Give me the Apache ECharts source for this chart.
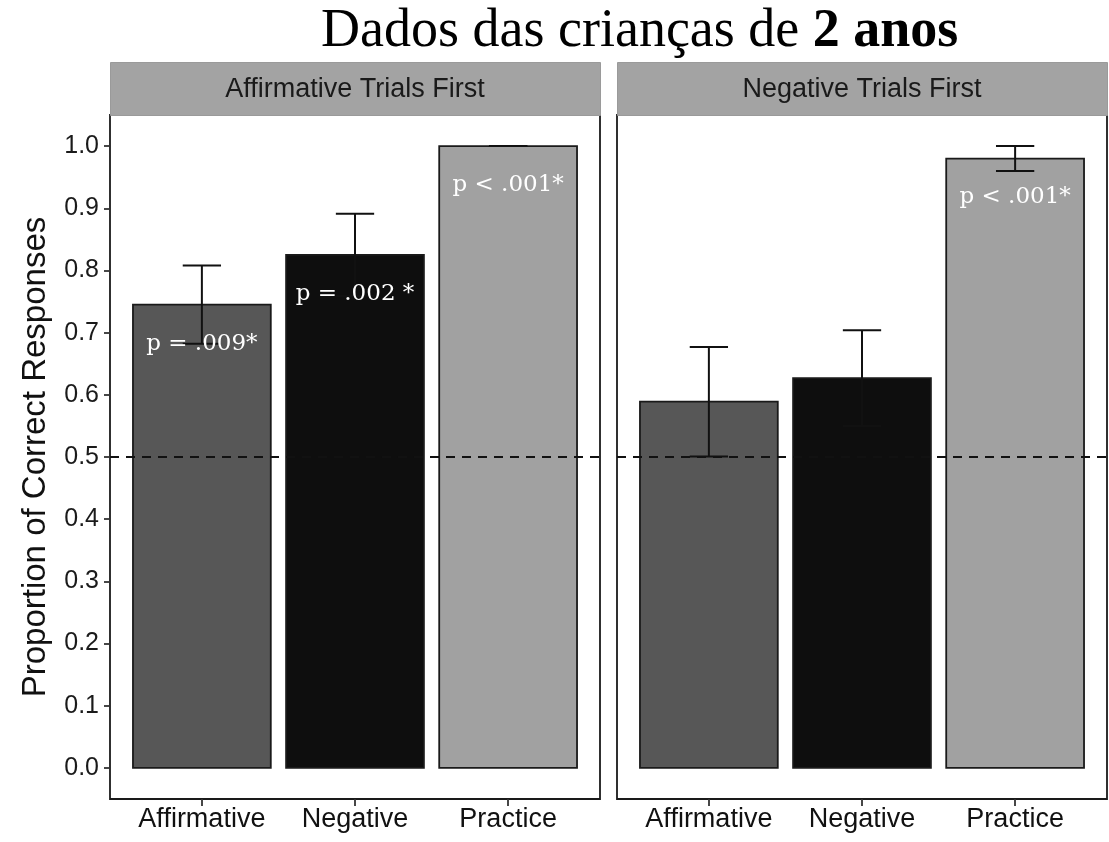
<!DOCTYPE html>
<html>
<head>
<meta charset="utf-8">
<script src="https://cdn.jsdelivr.net/npm/echarts@6/dist/echarts.min.js"></script>
<style>
  html, body { margin: 0; padding: 0; background: #fff; }
  #chart { width: 1109px; height: 842px; }
</style>
</head>
<body>
<div id="chart"></div>
<script>
// Conditions on the x axis of each facet
const categories = ['Affirmative', 'Negative', 'Practice'];
// Facet titles (trial order)
const panels = ['Affirmative Trials First', 'Negative Trials First'];

// Mean proportion correct and standard error, affirmative-first order
const affFirstMeans = [0.745, 0.825, 1.000];
const affFirstErr = [0.063, 0.066, 0.000];
const affFirstP = ['p = .009*', 'p = .002 *', 'p < .001*'];

// Mean proportion correct and standard error, negative-first order
const negFirstMeans = [0.589, 0.627, 0.980];
const negFirstErr = [0.088, 0.077, 0.020];
const negFirstP = ['', '', 'p < .001*'];

// Y tick values and chance level
const yTicks = [0, 0.1, 0.2, 0.3, 0.4, 0.5, 0.6, 0.7, 0.8, 0.9, 1.0];
const chance = 0.5;

// Styling
const barColors = ['#575757', '#0e0e0e', '#a1a1a1'];
const sans = 'Liberation Sans, Arial, sans-serif';
const serif = 'Liberation Serif, Times New Roman, serif';
const layout = { lefts: [110, 617], width: 490, top: 115, height: 684, stripTop: 62 };
const xRange = [0.4, 3.6];

const facetData = [
  { means: affFirstMeans, err: affFirstErr, p: affFirstP },
  { means: negFirstMeans, err: negFirstErr, p: negFirstP }
];

function rows(f) {
  return categories.map((c, i) => [i + 1, f.means[i], f.err[i], i, f.p[i]]);
}

function renderBar(params, api) {
  const x = api.value(0), y = api.value(1), ci = api.value(3);
  const top = api.coord([x, y]);
  const base = api.coord([x, 0]);
  const w = api.size([0.9, 0])[0];
  return {
    type: 'rect',
    shape: { x: top[0] - w / 2, y: top[1], width: w, height: base[1] - top[1] },
    style: { fill: barColors[ci], stroke: '#1a1a1a', lineWidth: 1.8 }
  };
}

function renderErr(params, api) {
  const x = api.value(0), y = api.value(1), e = api.value(2);
  const hi = api.coord([x, y + e]);
  const lo = api.coord([x, y - e]);
  const cw = api.size([0.25, 0])[0];
  const st = { stroke: '#111', lineWidth: 2 };
  return {
    type: 'group',
    children: [
      { type: 'line', shape: { x1: hi[0], y1: hi[1], x2: lo[0], y2: lo[1] }, style: st },
      { type: 'line', shape: { x1: hi[0] - cw / 2, y1: hi[1], x2: hi[0] + cw / 2, y2: hi[1] }, style: st },
      { type: 'line', shape: { x1: lo[0] - cw / 2, y1: lo[1], x2: lo[0] + cw / 2, y2: lo[1] }, style: st }
    ]
  };
}

const rowsCache = {};

function renderP(params, api) {
  const x = api.value(0), y = api.value(1);
  const txt = rowsCache[params.seriesIndex][params.dataIndex][4];
  if (!txt) return null;
  const top = api.coord([x, y]);
  return {
    type: 'text',
    style: {
      text: txt, x: top[0], y: top[1] + 39,
      align: 'center', verticalAlign: 'middle',
      fill: '#ffffff', font: '23px DejaVu Serif, serif'
    }
  };
}

const grids = [], xAxes = [], yAxes = [], series = [], graphics = [];

facetData.forEach((f, k) => {
  const data = rows(f);
  grids.push({
    left: layout.lefts[k], top: layout.top, width: layout.width, height: layout.height,
    show: true, borderColor: '#1a1a1a', borderWidth: 1.8, backgroundColor: '#fff'
  });
  xAxes.push({
    gridIndex: k, type: 'value', min: xRange[0], max: xRange[1], position: 'bottom',
    axisLine: { show: false, onZero: false }, splitLine: { show: false },
    axisTick: { show: true, inside: false, customValues: [1, 2, 3], length: 7, lineStyle: { color: '#333', width: 1.8 } },
    axisLabel: {
      show: true, customValues: [1, 2, 3], margin: 7,
      formatter: v => categories[Math.round(v) - 1],
      fontFamily: sans, fontSize: 27, color: '#111'
    }
  });
  yAxes.push({
    gridIndex: k, type: 'value', min: -0.05, max: 1.05, position: 'left',
    axisLine: { show: false, onZero: false }, splitLine: { show: false },
    axisTick: { show: k === 0, customValues: yTicks, length: 6, lineStyle: { color: '#333', width: 1.8 } },
    axisLabel: {
      show: k === 0, customValues: yTicks, margin: 11,
      formatter: v => v.toFixed(1), fontFamily: sans, fontSize: 25, color: '#1a1a1a'
    },
    name: k === 0 ? 'Proportion of Correct Responses' : '',
    nameLocation: 'middle', nameRotate: 90, nameGap: 58,
    nameTextStyle: { fontFamily: sans, fontSize: 33, color: '#111' }
  });
  series.push({ type: 'custom', xAxisIndex: k, yAxisIndex: k, renderItem: renderBar, data: data, z: 2 });
  series.push({ type: 'custom', xAxisIndex: k, yAxisIndex: k, renderItem: renderErr, data: data, z: 3 });
  // dashed chance-level line across the full panel, on its own layer above the bars
  series.push({
    type: 'line', xAxisIndex: k, yAxisIndex: k, zlevel: 1, z: 10,
    data: [[xRange[0], chance], [xRange[1], chance]],
    symbol: 'none', silent: true, clip: false,
    lineStyle: { color: '#111', width: 2, type: [9, 7] }
  });
  rowsCache[series.length] = data;
  series.push({ type: 'custom', xAxisIndex: k, yAxisIndex: k, renderItem: renderP, data: data, z: 6 });

  // facet strip
  graphics.push({
    type: 'rect', left: layout.lefts[k], top: layout.stripTop,
    shape: { width: layout.width, height: layout.top - layout.stripTop },
    style: { fill: '#a3a3a3', stroke: '#9a9a9a', lineWidth: 1 }, z: 1
  });
  graphics.push({
    type: 'text',
    style: {
      text: panels[k],
      x: layout.lefts[k] + layout.width / 2,
      y: (layout.stripTop + layout.top) / 2 + 1,
      align: 'center', verticalAlign: 'middle',
      font: '27px ' + sans, fill: '#1a1a1a'
    }, z: 2
  });
});

const chart = echarts.init(document.getElementById('chart'), null, { renderer: 'canvas' });
chart.setOption({
  animation: false,
  backgroundColor: '#fff',
  title: {
    text: '{n|Dados das crianças de }{b|2 anos}',
    left: 316, top: 0,
    textStyle: {
      fontWeight: 'normal',
      rich: {
        n: { fontFamily: serif, fontSize: 54, fontWeight: 'normal', color: '#000' },
        b: { fontFamily: serif, fontSize: 54, fontWeight: 'bold', color: '#000' }
      }
    }
  },
  grid: grids,
  xAxis: xAxes,
  yAxis: yAxes,
  series: series,
  graphic: graphics
});
</script>
</body>
</html>
